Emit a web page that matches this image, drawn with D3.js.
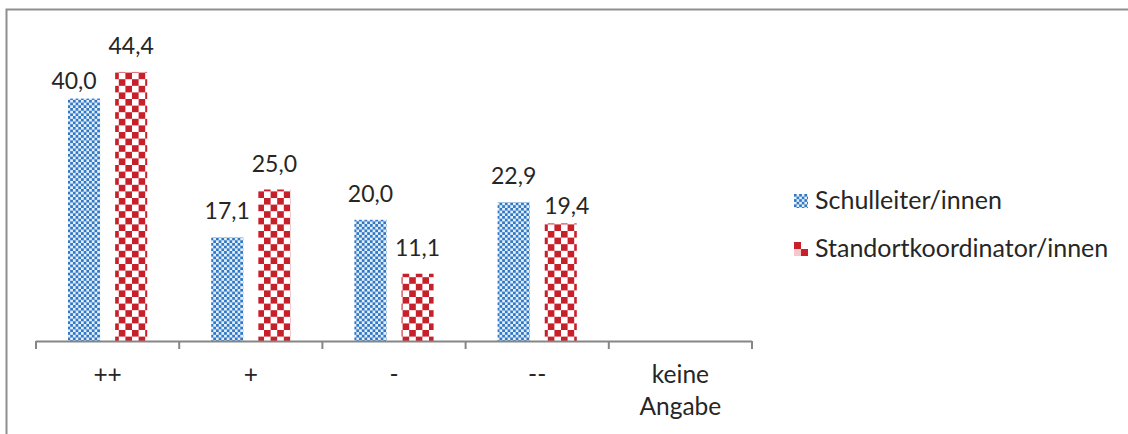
<!DOCTYPE html>
<html>
<head>
<meta charset="utf-8">
<script src="https://cdn.jsdelivr.net/npm/d3@7/dist/d3.min.js"></script>
<style>
  html, body { margin: 0; padding: 0; background: #fff; }
  svg { display: block; }
  text { font-family: Lato, "Open Sans", sans-serif; fill: #262626; }
</style>
</head>
<body>
<svg id="chart" width="1128" height="434"></svg>
<script>
// Answer categories (x axis)
const categories = ["++", "+", "-", "--", "keine Angabe"];
// Respondent groups
const seriesNames = ["Schulleiter/innen", "Standortkoordinator/innen"];
// Percentages per category, one array per group (null = no bar)
const schulleiter = [40.0, 17.1, 20.0, 22.9, null];
const standortkoordinator = [44.4, 25.0, 11.1, 19.4, null];
const seriesValues = [schulleiter, standortkoordinator];
// Value label text as printed (German decimal comma)
const fmt = v => d3.format(".1f")(v).replace(".", ",");

const svg = d3.select("#chart");
const W = 1128, H = 434;

// Frame around the chart area
svg.append("rect")
  .attr("x", 6.5).attr("y", 9.5)
  .attr("width", W + 20).attr("height", H + 20)
  .attr("fill", "none").attr("stroke", "#8f8f8f").attr("stroke-width", 2);

// Fill patterns: fine blue checkerboard, coarse red checkerboard
const defs = svg.append("defs");
function checker(id, cell, color, bg, ox = 0, oy = 0, bg2 = bg) {
  const p = defs.append("pattern")
    .attr("id", id).attr("patternUnits", "userSpaceOnUse")
    .attr("x", ox).attr("y", oy)
    .attr("width", cell * 2).attr("height", cell * 2);
  p.append("rect").attr("width", cell * 2).attr("height", cell * 2).attr("fill", bg);
  p.append("rect").attr("x", 0).attr("y", cell).attr("width", cell).attr("height", cell).attr("fill", bg2);
  p.append("rect").attr("x", 0).attr("y", 0).attr("width", cell).attr("height", cell).attr("fill", color);
  p.append("rect").attr("x", cell).attr("y", cell).attr("width", cell).attr("height", cell).attr("fill", color);
}
checker("pat-blue", 2.7, "#2e78c6", "#e6eff9");
checker("pat-red", 6.6, "#c8202a", "#ffffff");
const fills = ["url(#pat-blue)", "url(#pat-red)"];

// Scales
const plot = { left: 36, right: 752, bottom: 341, top: 38 };
const x0 = d3.scaleBand().domain(categories).range([plot.left, plot.right]).paddingInner(0).paddingOuter(0);
const bw = x0.bandwidth();
const x1 = d3.scaleBand().domain(seriesNames)
  .range([bw * 0.2235, bw * (1 - 0.2235)]).paddingInner(0.32).paddingOuter(0);
const y = d3.scaleLinear().domain([0, 50]).range([plot.bottom, plot.top]);

// Bars
const rows = [];
categories.forEach((c, i) => {
  seriesNames.forEach((s, j) => {
    const v = seriesValues[j][i];
    if (v != null) rows.push({ c, s, j, v });
  });
});

svg.append("g").selectAll("rect")
  .data(rows).join("rect")
  .attr("x", d => x0(d.c) + x1(d.s))
  .attr("y", d => y(d.v))
  .attr("width", x1.bandwidth())
  .attr("height", d => y(0) - y(d.v))
  .attr("fill", d => fills[d.j]);

// Value labels; two of them sit slightly shifted from the default spot
const nudge = { "++|Schulleiter/innen": [-10, 8], "--|Standortkoordinator/innen": [6, 9] };
svg.append("g").selectAll("text")
  .data(rows).join("text")
  .attr("x", d => x0(d.c) + x1(d.s) + x1.bandwidth() / 2 + (nudge[d.c + "|" + d.s] || [0, 0])[0])
  .attr("y", d => y(d.v) - 18 + (nudge[d.c + "|" + d.s] || [0, 0])[1])
  .attr("text-anchor", "middle")
  .attr("font-size", 23)
  .text(d => fmt(d.v));

// Category axis with ticks between categories
const axis = svg.append("g");
axis.append("line")
  .attr("x1", plot.left).attr("x2", plot.right)
  .attr("y1", plot.bottom + 0.5).attr("y2", plot.bottom + 0.5)
  .attr("stroke", "#868686").attr("stroke-width", 2);
const tickXs = categories.map(c => x0(c)).concat([x0(categories[categories.length - 1]) + bw]);
axis.selectAll("line.tick").data(tickXs).join("line")
  .attr("class", "tick")
  .attr("x1", d => d).attr("x2", d => d)
  .attr("y1", plot.bottom).attr("y2", plot.bottom + 8)
  .attr("stroke", "#868686").attr("stroke-width", 2);

axis.selectAll("text").data(categories).join("text")
  .attr("x", c => x0(c) + bw / 2)
  .attr("y", 383)
  .attr("text-anchor", "middle")
  .attr("font-size", 24.5)
  .each(function (c) {
    const words = c.split(" ");
    const t = d3.select(this);
    words.forEach((w, k) => {
      t.append("tspan").attr("x", x0(c) + bw / 2).attr("dy", k === 0 ? 0 : 32).text(w);
    });
  });

// Legend: swatches carry the same checkerboards, anchored to each swatch
const legend = svg.append("g");
const legendBaselines = [209, 257];
const swatchX = 794, swatch = 14;
checker("leg-blue", 2.6, "#2e78c6", "#e6eff9", swatchX, legendBaselines[0] - 15);
checker("leg-red", 7, "#c8202a", "#ffffff", swatchX, legendBaselines[1] - 15, "#f3c9cb");
const legendFills = ["url(#leg-blue)", "url(#leg-red)"];
seriesNames.forEach((s, j) => {
  legend.append("rect")
    .attr("x", swatchX).attr("y", legendBaselines[j] - 15)
    .attr("width", swatch).attr("height", swatch)
    .attr("fill", legendFills[j]);
  legend.append("text")
    .attr("x", 815).attr("y", legendBaselines[j])
    .attr("font-size", 25)
    .text(s);
});
</script>
</body>
</html>
